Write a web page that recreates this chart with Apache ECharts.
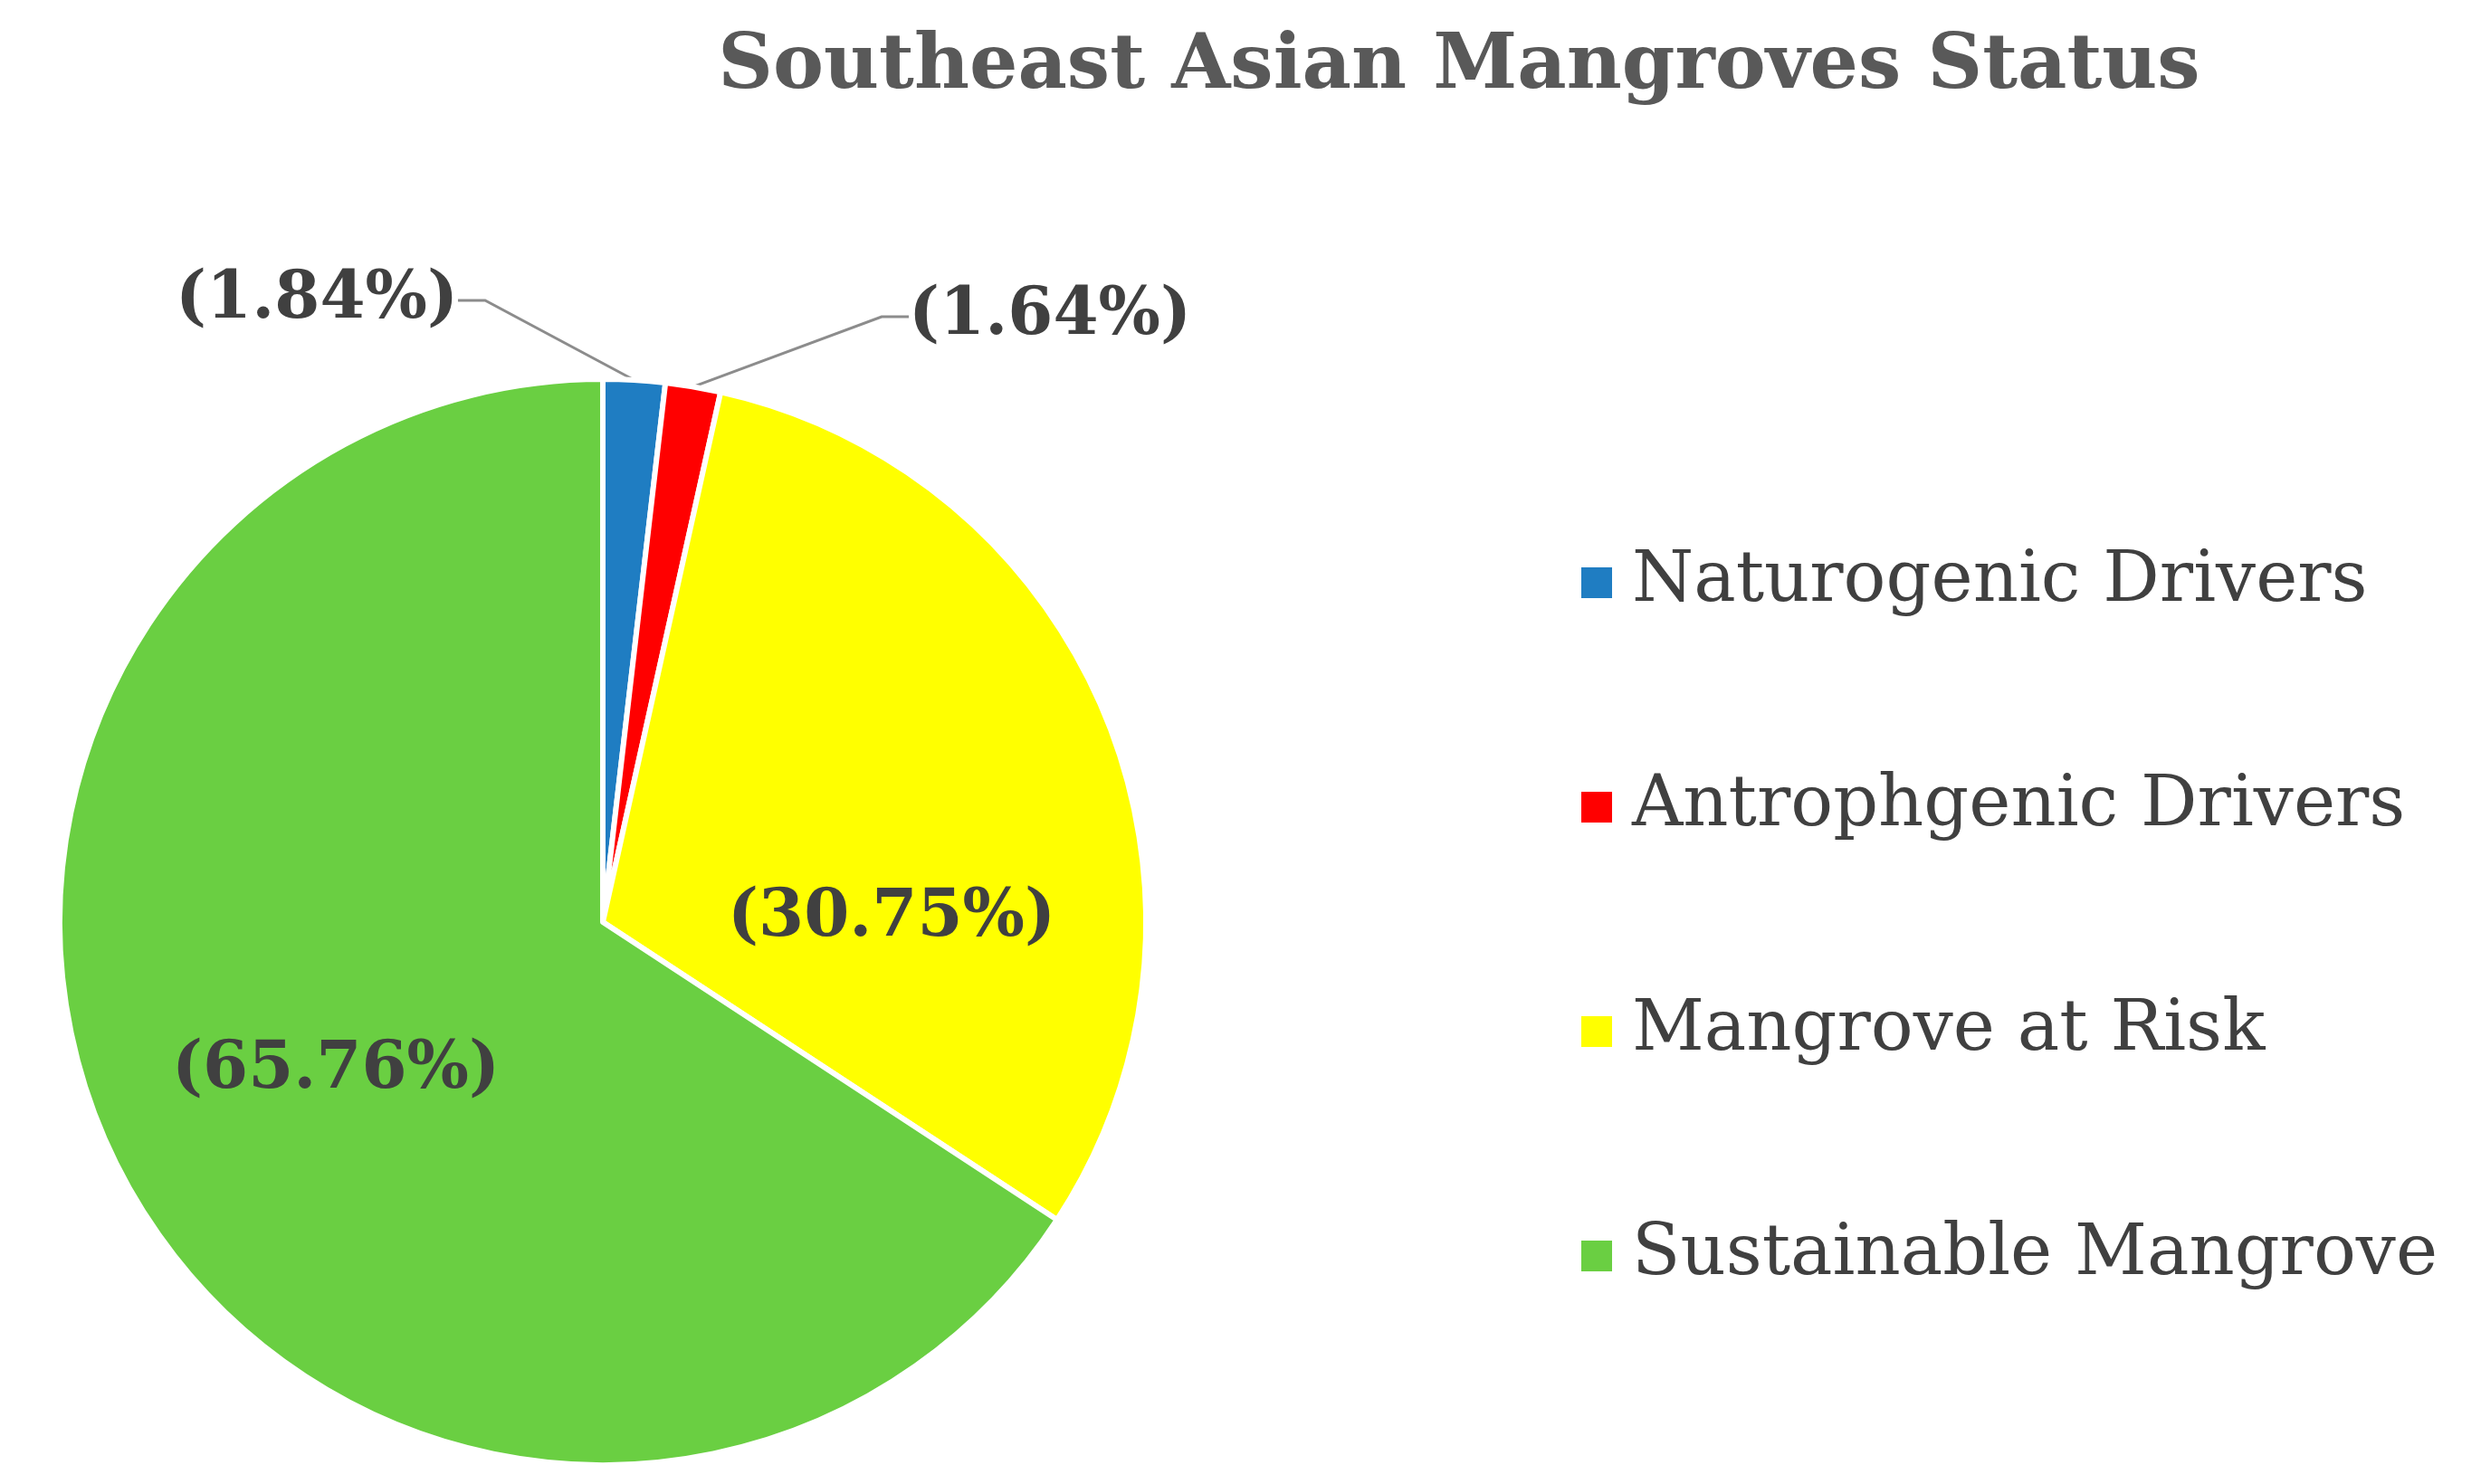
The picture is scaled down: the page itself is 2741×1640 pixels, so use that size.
<!DOCTYPE html>
<html>
<head>
<meta charset="utf-8">
<script src="https://cdn.jsdelivr.net/npm/echarts@6/dist/echarts.min.js"></script>
<style>
  html, body { margin: 0; padding: 0; background: #fff; }
  #chart { width: 2741px; height: 1640px; }
</style>
</head>
<body>
<div id="chart"></div>
<script>
var categories = ['Naturogenic Drivers', 'Antrophgenic Drivers', 'Mangrove at Risk', 'Sustainable Mangrove'];
var shares = [1.84, 1.64, 30.75, 65.76];
var colors = ['#1F7DC2', '#FF0000', '#FFFF00', '#6ACF42'];

var serif = '"DejaVu Serif", "Liberation Serif", serif';
var myChart = echarts.init(document.getElementById('chart'));

var data = categories.map(function (name, i) {
  var item = { name: name, value: shares[i], itemStyle: { color: colors[i] } };
  if (i < 2) {
    // small slices get outside labels with leader lines
    item.label = { position: 'outside' };
    item.labelLine = { show: true, length: 110, length2: 30 };
  } else {
    item.label = { position: 'inside' };
    item.labelLine = { show: false };
  }
  return item;
});

myChart.setOption({
  animation: false,
  title: {
    text: 'Southeast Asian Mangroves Status',
    left: 1607,
    top: 28,
    textAlign: 'center',
    textStyle: { fontFamily: serif, fontWeight: 'bold', fontSize: 84, color: '#595959' }
  },
  legend: {
    orient: 'vertical',
    left: 1740,
    top: 600,
    itemGap: 170,
    itemWidth: 36,
    itemHeight: 36,
    icon: 'rect',
    data: categories,
    textStyle: { fontFamily: serif, fontSize: 78, color: '#404040', padding: [0, 0, 0, 16] }
  },
  series: [{
    type: 'pie',
    center: [666, 1019],
    radius: 600,
    startAngle: 90,
    clockwise: true,
    avoidLabelOverlap: false,
    itemStyle: { borderColor: '#fff', borderWidth: 6 },
    label: {
      formatter: function (p) { return '(' + p.value.toFixed(2) + '%)'; },
      fontFamily: serif,
      fontWeight: 'bold',
      fontSize: 72,
      color: '#404040'
    },
    labelLine: { lineStyle: { color: '#8c8c8c', width: 3 } },
    labelLayout: function (params) {
      if (params.dataIndex === 0) return { x: 350, y: 332, align: 'center', verticalAlign: 'middle' };
      if (params.dataIndex === 1) return { x: 1160, y: 350, align: 'center', verticalAlign: 'middle' };
      if (params.dataIndex === 2) return { x: 985, y: 1015, align: 'center', verticalAlign: 'middle' };
      return { x: 371, y: 1183, align: 'center', verticalAlign: 'middle' };
    },
    data: data
  }]
});
</script>
</body>
</html>
